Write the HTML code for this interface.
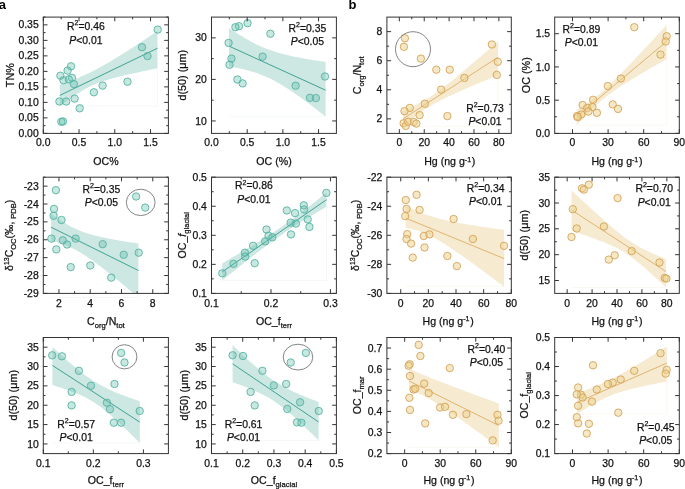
<!DOCTYPE html>
<html><head><meta charset="utf-8"><style>
html,body{margin:0;padding:0;background:#fff;width:685px;height:489px;overflow:hidden}
svg{display:block;will-change:transform;filter:blur(0.25px)}
.t{font-family:"Liberation Sans", sans-serif;font-size:10.4px;fill:#111;stroke:#111;stroke-width:0.25px}
.xt{font-size:10.6px}.sup{font-size:7px}.sub{font-size:7.6px}
.lab{font-family:"Liberation Sans", sans-serif;font-size:13px;font-weight:bold;fill:#000}
</style></head><body>
<svg width="685" height="489" viewBox="0 0 685 489">
<text x="-1.3" y="9" class="lab">a</text>
<text x="348.6" y="9" class="lab">b</text>
<path d="M59.8 106.00H157.5M157.5 68.30V106.00" fill="none" stroke="#f1f7f6" stroke-width="0.8"/>
<clipPath id="clip1"><rect x="43.3" y="17.1" width="125.10000000000001" height="116.30000000000001"/></clipPath>
<polygon points="59.80,84.90 62.24,84.04 64.69,83.16 67.13,82.26 69.57,81.34 72.01,80.40 74.45,79.42 76.90,78.42 79.34,77.39 81.78,76.33 84.22,75.24 86.67,74.11 89.11,72.94 91.55,71.74 94.00,70.51 96.44,69.24 98.88,67.94 101.32,66.61 103.77,65.25 106.21,63.86 108.65,62.45 111.09,61.01 113.53,59.55 115.98,58.06 118.42,56.56 120.86,55.04 123.31,53.51 125.75,51.96 128.19,50.40 130.63,48.83 133.07,47.24 135.52,45.65 137.96,44.05 140.40,42.44 142.84,40.82 145.29,39.20 147.73,37.57 150.17,35.93 152.62,34.29 155.06,32.65 157.50,31.00 157.50,68.30 155.06,68.80 152.62,69.31 150.17,69.81 147.73,70.32 145.29,70.83 142.84,71.35 140.40,71.87 137.96,72.39 135.52,72.92 133.07,73.45 130.63,73.99 128.19,74.54 125.75,75.10 123.31,75.66 120.86,76.24 118.42,76.83 115.98,77.44 113.53,78.08 111.09,78.73 108.65,79.41 106.21,80.13 103.77,80.90 101.32,81.71 98.88,82.59 96.44,83.53 94.00,84.56 91.55,85.67 89.11,86.87 86.67,88.16 84.22,89.53 81.78,90.97 79.34,92.48 76.90,94.05 74.45,95.67 72.01,97.32 69.57,99.01 67.13,100.73 64.69,102.47 62.24,104.23 59.80,106.00" fill="#cde7e3" clip-path="url(#clip1)"/>
<line x1="59.8" y1="95.4" x2="157.5" y2="48.2" stroke="#3fa393" stroke-width="1"/>
<circle cx="157.7" cy="29.6" r="3.7" fill="rgba(96,190,172,0.36)" stroke="#58b2a4" stroke-width="0.9"/>
<circle cx="142" cy="47.2" r="3.7" fill="rgba(96,190,172,0.36)" stroke="#58b2a4" stroke-width="0.9"/>
<circle cx="147.5" cy="56.1" r="3.7" fill="rgba(96,190,172,0.36)" stroke="#58b2a4" stroke-width="0.9"/>
<circle cx="127.5" cy="81.7" r="3.7" fill="rgba(96,190,172,0.36)" stroke="#58b2a4" stroke-width="0.9"/>
<circle cx="102.6" cy="85.6" r="3.7" fill="rgba(96,190,172,0.36)" stroke="#58b2a4" stroke-width="0.9"/>
<circle cx="93.9" cy="92.3" r="3.7" fill="rgba(96,190,172,0.36)" stroke="#58b2a4" stroke-width="0.9"/>
<circle cx="79.7" cy="108.3" r="3.7" fill="rgba(96,190,172,0.36)" stroke="#58b2a4" stroke-width="0.9"/>
<circle cx="74.6" cy="98.6" r="3.7" fill="rgba(96,190,172,0.36)" stroke="#58b2a4" stroke-width="0.9"/>
<circle cx="73.9" cy="84.1" r="3.7" fill="rgba(96,190,172,0.36)" stroke="#58b2a4" stroke-width="0.9"/>
<circle cx="72" cy="77.8" r="3.7" fill="rgba(96,190,172,0.36)" stroke="#58b2a4" stroke-width="0.9"/>
<circle cx="71" cy="66.3" r="3.7" fill="rgba(96,190,172,0.36)" stroke="#58b2a4" stroke-width="0.9"/>
<circle cx="67.6" cy="70.6" r="3.7" fill="rgba(96,190,172,0.36)" stroke="#58b2a4" stroke-width="0.9"/>
<circle cx="60.4" cy="75.7" r="3.7" fill="rgba(96,190,172,0.36)" stroke="#58b2a4" stroke-width="0.9"/>
<circle cx="63.5" cy="80.3" r="3.7" fill="rgba(96,190,172,0.36)" stroke="#58b2a4" stroke-width="0.9"/>
<circle cx="68.8" cy="79.3" r="3.7" fill="rgba(96,190,172,0.36)" stroke="#58b2a4" stroke-width="0.9"/>
<circle cx="59.4" cy="101.5" r="3.7" fill="rgba(96,190,172,0.36)" stroke="#58b2a4" stroke-width="0.9"/>
<circle cx="66.2" cy="101.5" r="3.7" fill="rgba(96,190,172,0.36)" stroke="#58b2a4" stroke-width="0.9"/>
<circle cx="61.3" cy="121.8" r="3.7" fill="rgba(96,190,172,0.36)" stroke="#58b2a4" stroke-width="0.9"/>
<circle cx="63" cy="121.5" r="3.7" fill="rgba(96,190,172,0.36)" stroke="#58b2a4" stroke-width="0.9"/>
<rect x="43.3" y="17.1" width="125.10000000000001" height="116.30000000000001" fill="none" stroke="#333333" stroke-width="1"/>
<path d="M43.30 133.4v-4.2M43.30 17.1v4.2M79.04 133.4v-4.2M79.04 17.1v4.2M114.79 133.4v-4.2M114.79 17.1v4.2M150.53 133.4v-4.2M150.53 17.1v4.2M61.17 133.4v-2.2M61.17 17.1v2.2M96.91 133.4v-2.2M96.91 17.1v2.2M132.66 133.4v-2.2M132.66 17.1v2.2M43.3 133.40h4.2M168.4 133.40h-4.2M43.3 117.89h4.2M168.4 117.89h-4.2M43.3 102.39h4.2M168.4 102.39h-4.2M43.3 86.88h4.2M168.4 86.88h-4.2M43.3 71.37h4.2M168.4 71.37h-4.2M43.3 55.87h4.2M168.4 55.87h-4.2M43.3 40.36h4.2M168.4 40.36h-4.2M43.3 24.85h4.2M168.4 24.85h-4.2M43.3 125.65h2.2M168.4 125.65h-2.2M43.3 110.14h2.2M168.4 110.14h-2.2M43.3 94.63h2.2M168.4 94.63h-2.2M43.3 79.13h2.2M168.4 79.13h-2.2M43.3 63.62h2.2M168.4 63.62h-2.2M43.3 48.11h2.2M168.4 48.11h-2.2M43.3 32.61h2.2M168.4 32.61h-2.2M43.3 17.10h2.2M168.4 17.10h-2.2" stroke="#333333" stroke-width="1" fill="none"/>
<text x="43.30" y="146.30" text-anchor="middle" class="t">0.0</text>
<text x="79.04" y="146.30" text-anchor="middle" class="t">0.5</text>
<text x="114.79" y="146.30" text-anchor="middle" class="t">1.0</text>
<text x="150.53" y="146.30" text-anchor="middle" class="t">1.5</text>
<text x="38.70" y="137.00" text-anchor="end" class="t">0.00</text>
<text x="38.70" y="121.49" text-anchor="end" class="t">0.05</text>
<text x="38.70" y="105.99" text-anchor="end" class="t">0.10</text>
<text x="38.70" y="90.48" text-anchor="end" class="t">0.15</text>
<text x="38.70" y="74.97" text-anchor="end" class="t">0.20</text>
<text x="38.70" y="59.47" text-anchor="end" class="t">0.25</text>
<text x="38.70" y="43.96" text-anchor="end" class="t">0.30</text>
<text x="38.70" y="28.45" text-anchor="end" class="t">0.35</text>
<text x="85.9" y="30.0" text-anchor="middle" class="t">R<tspan class="sup" dy="-4.6">2</tspan><tspan dy="4.6">=0.46</tspan></text>
<text x="85.9" y="43.5" text-anchor="middle" class="t"><tspan font-style="italic">P</tspan>&lt;0.01</text>
<text x="105.9" y="165.3" text-anchor="middle" class="t xt">OC%</text>
<text transform="translate(13.9,75.2) rotate(-90)" text-anchor="middle" class="t" style="font-size:10.8px">TN%</text>
<path d="M229 116.60H325.6" fill="none" stroke="#f1f7f6" stroke-width="0.8"/>
<clipPath id="clip2"><rect x="211.5" y="17.1" width="124.89999999999998" height="116.30000000000001"/></clipPath>
<polygon points="229.00,28.00 231.41,29.64 233.83,31.24 236.25,32.82 238.66,34.35 241.07,35.85 243.49,37.31 245.91,38.73 248.32,40.10 250.74,41.41 253.15,42.68 255.56,43.89 257.98,45.05 260.39,46.16 262.81,47.21 265.23,48.20 267.64,49.14 270.06,50.03 272.47,50.87 274.88,51.66 277.30,52.41 279.72,53.11 282.13,53.78 284.55,54.41 286.96,55.01 289.38,55.59 291.79,56.13 294.21,56.65 296.62,57.14 299.04,57.62 301.45,58.07 303.87,58.51 306.28,58.94 308.70,59.35 311.11,59.74 313.53,60.13 315.94,60.50 318.36,60.86 320.77,61.22 323.19,61.56 325.60,61.90 325.60,116.60 323.19,114.70 320.77,112.81 318.36,110.93 315.94,109.07 313.53,107.21 311.11,105.37 308.70,103.55 306.28,101.75 303.87,99.96 301.45,98.20 299.04,96.46 296.62,94.75 294.21,93.06 291.79,91.41 289.38,89.80 286.96,88.22 284.55,86.69 282.13,85.20 279.72,83.77 277.30,82.39 274.88,81.06 272.47,79.80 270.06,78.60 267.64,77.46 265.23,76.39 262.81,75.38 260.39,74.43 257.98,73.54 255.56,72.71 253.15,71.94 250.74,71.21 248.32,70.54 245.91,69.90 243.49,69.31 241.07,68.75 238.66,68.23 236.25,67.73 233.83,67.27 231.41,66.82 229.00,66.40" fill="#cde7e3" clip-path="url(#clip2)"/>
<line x1="229" y1="46.1" x2="325.6" y2="90.2" stroke="#3fa393" stroke-width="1"/>
<circle cx="247.5" cy="23.2" r="3.7" fill="rgba(96,190,172,0.36)" stroke="#58b2a4" stroke-width="0.9"/>
<circle cx="239" cy="26.2" r="3.7" fill="rgba(96,190,172,0.36)" stroke="#58b2a4" stroke-width="0.9"/>
<circle cx="235.4" cy="27.2" r="3.7" fill="rgba(96,190,172,0.36)" stroke="#58b2a4" stroke-width="0.9"/>
<circle cx="270.4" cy="33.7" r="3.7" fill="rgba(96,190,172,0.36)" stroke="#58b2a4" stroke-width="0.9"/>
<circle cx="228.6" cy="42.9" r="3.7" fill="rgba(96,190,172,0.36)" stroke="#58b2a4" stroke-width="0.9"/>
<circle cx="231.5" cy="58.6" r="3.7" fill="rgba(96,190,172,0.36)" stroke="#58b2a4" stroke-width="0.9"/>
<circle cx="229.5" cy="64.8" r="3.7" fill="rgba(96,190,172,0.36)" stroke="#58b2a4" stroke-width="0.9"/>
<circle cx="262.6" cy="56.6" r="3.7" fill="rgba(96,190,172,0.36)" stroke="#58b2a4" stroke-width="0.9"/>
<circle cx="237.4" cy="79.5" r="3.7" fill="rgba(96,190,172,0.36)" stroke="#58b2a4" stroke-width="0.9"/>
<circle cx="242.6" cy="83.4" r="3.7" fill="rgba(96,190,172,0.36)" stroke="#58b2a4" stroke-width="0.9"/>
<circle cx="295.6" cy="85.7" r="3.7" fill="rgba(96,190,172,0.36)" stroke="#58b2a4" stroke-width="0.9"/>
<circle cx="325" cy="76.5" r="3.7" fill="rgba(96,190,172,0.36)" stroke="#58b2a4" stroke-width="0.9"/>
<circle cx="310" cy="97.8" r="3.7" fill="rgba(96,190,172,0.36)" stroke="#58b2a4" stroke-width="0.9"/>
<circle cx="315.9" cy="98.1" r="3.7" fill="rgba(96,190,172,0.36)" stroke="#58b2a4" stroke-width="0.9"/>
<rect x="211.5" y="17.1" width="124.89999999999998" height="116.30000000000001" fill="none" stroke="#333333" stroke-width="1"/>
<path d="M211.50 133.4v-4.2M211.50 17.1v4.2M247.19 133.4v-4.2M247.19 17.1v4.2M282.87 133.4v-4.2M282.87 17.1v4.2M318.56 133.4v-4.2M318.56 17.1v4.2M229.34 133.4v-2.2M229.34 17.1v2.2M265.03 133.4v-2.2M265.03 17.1v2.2M300.71 133.4v-2.2M300.71 17.1v2.2M211.5 120.94h4.2M336.4 120.94h-4.2M211.5 79.40h4.2M336.4 79.40h-4.2M211.5 37.87h4.2M336.4 37.87h-4.2M211.5 100.17h2.2M336.4 100.17h-2.2M211.5 58.64h2.2M336.4 58.64h-2.2" stroke="#333333" stroke-width="1" fill="none"/>
<text x="211.50" y="146.30" text-anchor="middle" class="t">0.0</text>
<text x="247.19" y="146.30" text-anchor="middle" class="t">0.5</text>
<text x="282.87" y="146.30" text-anchor="middle" class="t">1.0</text>
<text x="318.56" y="146.30" text-anchor="middle" class="t">1.5</text>
<text x="206.90" y="124.54" text-anchor="end" class="t">10</text>
<text x="206.90" y="83.00" text-anchor="end" class="t">20</text>
<text x="206.90" y="41.47" text-anchor="end" class="t">30</text>
<text x="307.4" y="31.7" text-anchor="middle" class="t">R<tspan class="sup" dy="-4.6">2</tspan><tspan dy="4.6">=0.35</tspan></text>
<text x="307.4" y="44.6" text-anchor="middle" class="t"><tspan font-style="italic">P</tspan>&lt;0.05</text>
<text x="274" y="165.3" text-anchor="middle" class="t xt">OC (%)</text>
<text transform="translate(186.4,75.2) rotate(-90)" text-anchor="middle" class="t" style="font-size:10.8px">d(50) (μm)</text>
<path d="M403.1 126.43H498.2M498.2 75.06V126.43" fill="none" stroke="#faf6ee" stroke-width="0.8"/>
<clipPath id="clip3"><rect x="386.9" y="17.1" width="124.40000000000003" height="116.30000000000001"/></clipPath>
<polygon points="403.10,111.30 405.48,110.18 407.86,109.04 410.23,107.88 412.61,106.71 414.99,105.50 417.37,104.27 419.74,103.00 422.12,101.68 424.50,100.32 426.88,98.89 429.25,97.41 431.63,95.87 434.01,94.26 436.38,92.60 438.76,90.88 441.14,89.10 443.52,87.29 445.89,85.44 448.27,83.56 450.65,81.65 453.03,79.72 455.41,77.77 457.78,75.81 460.16,73.83 462.54,71.84 464.92,69.85 467.29,67.84 469.67,65.83 472.05,63.81 474.43,61.79 476.80,59.77 479.18,57.74 481.56,55.70 483.94,53.67 486.31,51.63 488.69,49.59 491.07,47.54 493.44,45.50 495.82,43.45 498.20,41.40 498.20,75.06 495.82,76.04 493.44,77.03 491.07,78.02 488.69,79.01 486.31,80.01 483.94,81.01 481.56,82.01 479.18,83.01 476.80,84.01 474.43,85.02 472.05,86.03 469.67,87.05 467.29,88.08 464.92,89.11 462.54,90.14 460.16,91.19 457.78,92.24 455.41,93.31 453.03,94.39 450.65,95.48 448.27,96.60 445.89,97.73 443.52,98.90 441.14,100.09 438.76,101.32 436.38,102.60 434.01,103.93 431.63,105.32 429.25,106.77 426.88,108.28 424.50,109.87 422.12,111.52 419.74,113.23 417.37,115.00 414.99,116.82 412.61,118.68 410.23,120.58 407.86,122.50 405.48,124.46 403.10,126.43" fill="#f6ead0" clip-path="url(#clip3)"/>
<line x1="403.1" y1="118.8" x2="498.2" y2="57.1" stroke="#e0b56f" stroke-width="1"/>
<circle cx="404.9" cy="38.3" r="3.7" fill="rgba(236,212,140,0.5)" stroke="#d6a25a" stroke-width="0.9"/>
<circle cx="403.9" cy="46.8" r="3.7" fill="rgba(236,212,140,0.5)" stroke="#d6a25a" stroke-width="0.9"/>
<circle cx="420.9" cy="58.6" r="3.7" fill="rgba(236,212,140,0.5)" stroke="#d6a25a" stroke-width="0.9"/>
<circle cx="491.9" cy="44.5" r="3.7" fill="rgba(236,212,140,0.5)" stroke="#d6a25a" stroke-width="0.9"/>
<circle cx="497.8" cy="61.8" r="3.7" fill="rgba(236,212,140,0.5)" stroke="#d6a25a" stroke-width="0.9"/>
<circle cx="496.8" cy="74.9" r="3.7" fill="rgba(236,212,140,0.5)" stroke="#d6a25a" stroke-width="0.9"/>
<circle cx="436.3" cy="69.7" r="3.7" fill="rgba(236,212,140,0.5)" stroke="#d6a25a" stroke-width="0.9"/>
<circle cx="449.7" cy="69.7" r="3.7" fill="rgba(236,212,140,0.5)" stroke="#d6a25a" stroke-width="0.9"/>
<circle cx="464.4" cy="77.9" r="3.7" fill="rgba(236,212,140,0.5)" stroke="#d6a25a" stroke-width="0.9"/>
<circle cx="441.2" cy="89.6" r="3.7" fill="rgba(236,212,140,0.5)" stroke="#d6a25a" stroke-width="0.9"/>
<circle cx="424.8" cy="103.7" r="3.7" fill="rgba(236,212,140,0.5)" stroke="#d6a25a" stroke-width="0.9"/>
<circle cx="409.8" cy="107.9" r="3.7" fill="rgba(236,212,140,0.5)" stroke="#d6a25a" stroke-width="0.9"/>
<circle cx="404.5" cy="111.2" r="3.7" fill="rgba(236,212,140,0.5)" stroke="#d6a25a" stroke-width="0.9"/>
<circle cx="419.6" cy="115.1" r="3.7" fill="rgba(236,212,140,0.5)" stroke="#d6a25a" stroke-width="0.9"/>
<circle cx="447.4" cy="116.1" r="3.7" fill="rgba(236,212,140,0.5)" stroke="#d6a25a" stroke-width="0.9"/>
<circle cx="403.6" cy="123.3" r="3.7" fill="rgba(236,212,140,0.5)" stroke="#d6a25a" stroke-width="0.9"/>
<circle cx="405.8" cy="125.9" r="3.7" fill="rgba(236,212,140,0.5)" stroke="#d6a25a" stroke-width="0.9"/>
<circle cx="408.1" cy="121.7" r="3.7" fill="rgba(236,212,140,0.5)" stroke="#d6a25a" stroke-width="0.9"/>
<circle cx="413.7" cy="122" r="3.7" fill="rgba(236,212,140,0.5)" stroke="#d6a25a" stroke-width="0.9"/>
<circle cx="416.3" cy="123.6" r="3.7" fill="rgba(236,212,140,0.5)" stroke="#d6a25a" stroke-width="0.9"/>
<ellipse cx="413" cy="49.2" rx="17.5" ry="17.5" fill="none" stroke="#666" stroke-width="0.8"/>
<rect x="386.9" y="17.1" width="124.40000000000003" height="116.30000000000001" fill="none" stroke="#333333" stroke-width="1"/>
<path d="M399.34 133.4v-4.2M399.34 17.1v4.2M424.22 133.4v-4.2M424.22 17.1v4.2M449.10 133.4v-4.2M449.10 17.1v4.2M473.98 133.4v-4.2M473.98 17.1v4.2M498.86 133.4v-4.2M498.86 17.1v4.2M411.78 133.4v-2.2M411.78 17.1v2.2M436.66 133.4v-2.2M436.66 17.1v2.2M461.54 133.4v-2.2M461.54 17.1v2.2M486.42 133.4v-2.2M486.42 17.1v2.2M386.9 118.86h4.2M511.3 118.86h-4.2M386.9 89.79h4.2M511.3 89.79h-4.2M386.9 60.71h4.2M511.3 60.71h-4.2M386.9 31.64h4.2M511.3 31.64h-4.2M386.9 104.33h2.2M511.3 104.33h-2.2M386.9 75.25h2.2M511.3 75.25h-2.2M386.9 46.17h2.2M511.3 46.17h-2.2" stroke="#333333" stroke-width="1" fill="none"/>
<text x="399.34" y="146.30" text-anchor="middle" class="t">0</text>
<text x="424.22" y="146.30" text-anchor="middle" class="t">20</text>
<text x="449.10" y="146.30" text-anchor="middle" class="t">40</text>
<text x="473.98" y="146.30" text-anchor="middle" class="t">60</text>
<text x="498.86" y="146.30" text-anchor="middle" class="t">80</text>
<text x="382.30" y="122.46" text-anchor="end" class="t">2</text>
<text x="382.30" y="93.39" text-anchor="end" class="t">4</text>
<text x="382.30" y="64.31" text-anchor="end" class="t">6</text>
<text x="382.30" y="35.24" text-anchor="end" class="t">8</text>
<text x="485" y="111.7" text-anchor="middle" class="t">R<tspan class="sup" dy="-4.6">2</tspan><tspan dy="4.6">=0.73</tspan></text>
<text x="485" y="125" text-anchor="middle" class="t"><tspan font-style="italic">P</tspan>&lt;0.01</text>
<text x="449.8" y="165.3" text-anchor="middle" class="t xt">Hg (ng g<tspan class="sup" dy="-3.6">-1</tspan><tspan dy="3.6" dx="0.8">)</tspan></text>
<text transform="translate(360.6,75.3) rotate(-90)" text-anchor="middle" class="t" style="font-size:10.6px">C<tspan class="sub" dy="3">org</tspan><tspan dy="-3">/N</tspan><tspan class="sub" dy="3">tot</tspan></text>
<path d="M576.7 125.20H666.7M666.7 58.90V125.20" fill="none" stroke="#faf6ee" stroke-width="0.8"/>
<clipPath id="clip4"><rect x="554.7" y="17.1" width="124.59999999999991" height="116.30000000000001"/></clipPath>
<polygon points="576.70,109.70 578.95,108.28 581.20,106.84 583.45,105.38 585.70,103.91 587.95,102.40 590.20,100.86 592.45,99.28 594.70,97.64 596.95,95.94 599.20,94.16 601.45,92.31 603.70,90.37 605.95,88.36 608.20,86.28 610.45,84.13 612.70,81.94 614.95,79.71 617.20,77.44 619.45,75.14 621.70,72.83 623.95,70.50 626.20,68.15 628.45,65.79 630.70,63.43 632.95,61.05 635.20,58.67 637.45,56.28 639.70,53.89 641.95,51.50 644.20,49.10 646.45,46.70 648.70,44.29 650.95,41.89 653.20,39.48 655.45,37.07 657.70,34.66 659.95,32.25 662.20,29.83 664.45,27.42 666.70,25.00 666.70,58.90 664.45,60.20 662.20,61.51 659.95,62.81 657.70,64.12 655.45,65.43 653.20,66.74 650.95,68.06 648.70,69.37 646.45,70.70 644.20,72.02 641.95,73.35 639.70,74.69 637.45,76.03 635.20,77.38 632.95,78.73 630.70,80.10 628.45,81.48 626.20,82.88 623.95,84.29 621.70,85.72 619.45,87.18 617.20,88.66 614.95,90.19 612.70,91.76 610.45,93.39 608.20,95.08 605.95,96.84 603.70,98.67 601.45,100.59 599.20,102.58 596.95,104.65 594.70,106.78 592.45,108.96 590.20,111.19 587.95,113.46 585.70,115.77 583.45,118.10 581.20,120.45 578.95,122.82 576.70,125.20" fill="#f6ead0" clip-path="url(#clip4)"/>
<line x1="576.7" y1="116.7" x2="666.7" y2="41.4" stroke="#e0b56f" stroke-width="1"/>
<circle cx="634.3" cy="27.2" r="3.7" fill="rgba(236,212,140,0.5)" stroke="#d6a25a" stroke-width="0.9"/>
<circle cx="666.7" cy="36.3" r="3.7" fill="rgba(236,212,140,0.5)" stroke="#d6a25a" stroke-width="0.9"/>
<circle cx="665.7" cy="41.5" r="3.7" fill="rgba(236,212,140,0.5)" stroke="#d6a25a" stroke-width="0.9"/>
<circle cx="660.5" cy="54.6" r="3.7" fill="rgba(236,212,140,0.5)" stroke="#d6a25a" stroke-width="0.9"/>
<circle cx="620.9" cy="78.5" r="3.7" fill="rgba(236,212,140,0.5)" stroke="#d6a25a" stroke-width="0.9"/>
<circle cx="607.8" cy="86" r="3.7" fill="rgba(236,212,140,0.5)" stroke="#d6a25a" stroke-width="0.9"/>
<circle cx="593.1" cy="99.8" r="3.7" fill="rgba(236,212,140,0.5)" stroke="#d6a25a" stroke-width="0.9"/>
<circle cx="612.7" cy="104.4" r="3.7" fill="rgba(236,212,140,0.5)" stroke="#d6a25a" stroke-width="0.9"/>
<circle cx="618" cy="108.9" r="3.7" fill="rgba(236,212,140,0.5)" stroke="#d6a25a" stroke-width="0.9"/>
<circle cx="582.6" cy="105" r="3.7" fill="rgba(236,212,140,0.5)" stroke="#d6a25a" stroke-width="0.9"/>
<circle cx="587.2" cy="108" r="3.7" fill="rgba(236,212,140,0.5)" stroke="#d6a25a" stroke-width="0.9"/>
<circle cx="592.4" cy="107" r="3.7" fill="rgba(236,212,140,0.5)" stroke="#d6a25a" stroke-width="0.9"/>
<circle cx="588.4" cy="111.6" r="3.7" fill="rgba(236,212,140,0.5)" stroke="#d6a25a" stroke-width="0.9"/>
<circle cx="596.9" cy="112.8" r="3.7" fill="rgba(236,212,140,0.5)" stroke="#d6a25a" stroke-width="0.9"/>
<circle cx="581.3" cy="114.5" r="3.7" fill="rgba(236,212,140,0.5)" stroke="#d6a25a" stroke-width="0.9"/>
<circle cx="577.1" cy="116.1" r="3.7" fill="rgba(236,212,140,0.5)" stroke="#d6a25a" stroke-width="0.9"/>
<circle cx="577.7" cy="117.1" r="3.7" fill="rgba(236,212,140,0.5)" stroke="#d6a25a" stroke-width="0.9"/>
<rect x="554.7" y="17.1" width="124.59999999999991" height="116.30000000000001" fill="none" stroke="#333333" stroke-width="1"/>
<path d="M572.50 133.4v-4.2M572.50 17.1v4.2M608.10 133.4v-4.2M608.10 17.1v4.2M643.70 133.4v-4.2M643.70 17.1v4.2M679.30 133.4v-4.2M679.30 17.1v4.2M590.30 133.4v-2.2M590.30 17.1v2.2M625.90 133.4v-2.2M625.90 17.1v2.2M661.50 133.4v-2.2M661.50 17.1v2.2M554.7 133.40h4.2M679.3 133.40h-4.2M554.7 100.17h4.2M679.3 100.17h-4.2M554.7 66.94h4.2M679.3 66.94h-4.2M554.7 33.71h4.2M679.3 33.71h-4.2M554.7 116.79h2.2M679.3 116.79h-2.2M554.7 83.56h2.2M679.3 83.56h-2.2M554.7 50.33h2.2M679.3 50.33h-2.2" stroke="#333333" stroke-width="1" fill="none"/>
<text x="572.50" y="146.30" text-anchor="middle" class="t">0</text>
<text x="608.10" y="146.30" text-anchor="middle" class="t">30</text>
<text x="643.70" y="146.30" text-anchor="middle" class="t">60</text>
<text x="679.30" y="146.30" text-anchor="middle" class="t">90</text>
<text x="550.10" y="137.00" text-anchor="end" class="t">0.0</text>
<text x="550.10" y="103.77" text-anchor="end" class="t">0.5</text>
<text x="550.10" y="70.54" text-anchor="end" class="t">1.0</text>
<text x="550.10" y="37.31" text-anchor="end" class="t">1.5</text>
<text x="581.4" y="32.8" text-anchor="middle" class="t">R<tspan class="sup" dy="-4.6">2</tspan><tspan dy="4.6">=0.89</tspan></text>
<text x="581.4" y="45.9" text-anchor="middle" class="t"><tspan font-style="italic">P</tspan>&lt;0.01</text>
<text x="617" y="165.3" text-anchor="middle" class="t xt">Hg (ng g<tspan class="sup" dy="-3.6">-1</tspan><tspan dy="3.6" dx="0.8">)</tspan></text>
<text transform="translate(529.5,75.2) rotate(-90)" text-anchor="middle" class="t" style="font-size:10.8px">OC (%)</text>
<path d="M51.1 297.50H138.4" fill="none" stroke="#f1f7f6" stroke-width="0.8"/>
<clipPath id="clip5"><rect x="43.3" y="177.2" width="125.10000000000001" height="116.19999999999999"/></clipPath>
<polygon points="51.10,213.70 53.28,215.29 55.47,216.85 57.65,218.37 59.83,219.84 62.01,221.27 64.20,222.64 66.38,223.96 68.56,225.21 70.74,226.41 72.93,227.54 75.11,228.60 77.29,229.59 79.47,230.53 81.66,231.40 83.84,232.21 86.02,232.96 88.20,233.67 90.39,234.34 92.57,234.96 94.75,235.54 96.93,236.10 99.12,236.62 101.30,237.12 103.48,237.60 105.66,238.05 107.84,238.49 110.03,238.91 112.21,239.32 114.39,239.71 116.58,240.09 118.76,240.47 120.94,240.83 123.12,241.19 125.31,241.53 127.49,241.88 129.67,242.21 131.85,242.54 134.04,242.86 136.22,243.18 138.40,243.50 138.40,297.50 136.22,295.65 134.04,293.81 131.85,291.96 129.67,290.13 127.49,288.30 125.31,286.48 123.12,284.66 120.94,282.85 118.76,281.05 116.58,279.26 114.39,277.47 112.21,275.70 110.03,273.95 107.84,272.20 105.66,270.47 103.48,268.76 101.30,267.08 99.12,265.41 96.93,263.77 94.75,262.16 92.57,260.58 90.39,259.03 88.20,257.53 86.02,256.08 83.84,254.67 81.66,253.31 79.47,252.02 77.29,250.79 75.11,249.62 72.93,248.51 70.74,247.48 68.56,246.51 66.38,245.60 64.20,244.75 62.01,243.96 59.83,243.22 57.65,242.53 55.47,241.88 53.28,241.27 51.10,240.70" fill="#cde7e3" clip-path="url(#clip5)"/>
<line x1="51.1" y1="227.2" x2="138.4" y2="270.5" stroke="#3fa393" stroke-width="1"/>
<circle cx="55.9" cy="190.2" r="3.7" fill="rgba(96,190,172,0.36)" stroke="#58b2a4" stroke-width="0.9"/>
<circle cx="54" cy="208.9" r="3.7" fill="rgba(96,190,172,0.36)" stroke="#58b2a4" stroke-width="0.9"/>
<circle cx="53.6" cy="215.8" r="3.7" fill="rgba(96,190,172,0.36)" stroke="#58b2a4" stroke-width="0.9"/>
<circle cx="61.5" cy="220" r="3.7" fill="rgba(96,190,172,0.36)" stroke="#58b2a4" stroke-width="0.9"/>
<circle cx="51.4" cy="238.6" r="3.7" fill="rgba(96,190,172,0.36)" stroke="#58b2a4" stroke-width="0.9"/>
<circle cx="56.3" cy="249.4" r="3.7" fill="rgba(96,190,172,0.36)" stroke="#58b2a4" stroke-width="0.9"/>
<circle cx="62.8" cy="240.3" r="3.7" fill="rgba(96,190,172,0.36)" stroke="#58b2a4" stroke-width="0.9"/>
<circle cx="67.1" cy="244.5" r="3.7" fill="rgba(96,190,172,0.36)" stroke="#58b2a4" stroke-width="0.9"/>
<circle cx="75.6" cy="238.6" r="3.7" fill="rgba(96,190,172,0.36)" stroke="#58b2a4" stroke-width="0.9"/>
<circle cx="70.7" cy="267.1" r="3.7" fill="rgba(96,190,172,0.36)" stroke="#58b2a4" stroke-width="0.9"/>
<circle cx="90.3" cy="265.5" r="3.7" fill="rgba(96,190,172,0.36)" stroke="#58b2a4" stroke-width="0.9"/>
<circle cx="102.7" cy="244.2" r="3.7" fill="rgba(96,190,172,0.36)" stroke="#58b2a4" stroke-width="0.9"/>
<circle cx="111.2" cy="277.6" r="3.7" fill="rgba(96,190,172,0.36)" stroke="#58b2a4" stroke-width="0.9"/>
<circle cx="123.7" cy="254.7" r="3.7" fill="rgba(96,190,172,0.36)" stroke="#58b2a4" stroke-width="0.9"/>
<circle cx="138.7" cy="252.7" r="3.7" fill="rgba(96,190,172,0.36)" stroke="#58b2a4" stroke-width="0.9"/>
<circle cx="136.1" cy="196.5" r="3.7" fill="rgba(96,190,172,0.36)" stroke="#58b2a4" stroke-width="0.9"/>
<circle cx="145.2" cy="207.6" r="3.7" fill="rgba(96,190,172,0.36)" stroke="#58b2a4" stroke-width="0.9"/>
<ellipse cx="140.7" cy="202.4" rx="14.4" ry="13.2" fill="none" stroke="#666" stroke-width="0.8"/>
<rect x="43.3" y="177.2" width="125.10000000000001" height="116.19999999999999" fill="none" stroke="#333333" stroke-width="1"/>
<path d="M58.94 293.4v-4.2M58.94 177.2v4.2M90.21 293.4v-4.2M90.21 177.2v4.2M121.49 293.4v-4.2M121.49 177.2v4.2M152.76 293.4v-4.2M152.76 177.2v4.2M74.58 293.4v-2.2M74.58 177.2v2.2M105.85 293.4v-2.2M105.85 177.2v2.2M137.12 293.4v-2.2M137.12 177.2v2.2M43.3 293.40h4.2M168.4 293.40h-4.2M43.3 275.52h4.2M168.4 275.52h-4.2M43.3 257.65h4.2M168.4 257.65h-4.2M43.3 239.77h4.2M168.4 239.77h-4.2M43.3 221.89h4.2M168.4 221.89h-4.2M43.3 204.02h4.2M168.4 204.02h-4.2M43.3 186.14h4.2M168.4 186.14h-4.2M43.3 284.46h2.2M168.4 284.46h-2.2M43.3 266.58h2.2M168.4 266.58h-2.2M43.3 248.71h2.2M168.4 248.71h-2.2M43.3 230.83h2.2M168.4 230.83h-2.2M43.3 212.95h2.2M168.4 212.95h-2.2M43.3 195.08h2.2M168.4 195.08h-2.2M43.3 177.20h2.2M168.4 177.20h-2.2" stroke="#333333" stroke-width="1" fill="none"/>
<text x="58.94" y="306.80" text-anchor="middle" class="t">2</text>
<text x="90.21" y="306.80" text-anchor="middle" class="t">4</text>
<text x="121.49" y="306.80" text-anchor="middle" class="t">6</text>
<text x="152.76" y="306.80" text-anchor="middle" class="t">8</text>
<text x="38.70" y="297.00" text-anchor="end" class="t">-29</text>
<text x="38.70" y="279.12" text-anchor="end" class="t">-28</text>
<text x="38.70" y="261.25" text-anchor="end" class="t">-27</text>
<text x="38.70" y="243.37" text-anchor="end" class="t">-26</text>
<text x="38.70" y="225.49" text-anchor="end" class="t">-25</text>
<text x="38.70" y="207.62" text-anchor="end" class="t">-24</text>
<text x="38.70" y="189.74" text-anchor="end" class="t">-23</text>
<text x="101.4" y="192.9" text-anchor="middle" class="t">R<tspan class="sup" dy="-4.6">2</tspan><tspan dy="4.6">=0.35</tspan></text>
<text x="101.4" y="205.6" text-anchor="middle" class="t"><tspan font-style="italic">P</tspan>&lt;0.05</text>
<text x="105.9" y="325.0" text-anchor="middle" class="t xt">C<tspan class="sub" dy="3">org</tspan><tspan dy="-3">/N</tspan><tspan class="sub" dy="3">tot</tspan></text>
<text transform="translate(13,235.3) rotate(-90)" text-anchor="middle" class="t" style="font-size:10.4px">δ<tspan class="sup" dy="-4">13</tspan><tspan dy="4">C</tspan><tspan class="sub" dy="3">OC</tspan><tspan dy="-3">(‰, </tspan><tspan class="sub" dy="3">PDB</tspan><tspan dy="-3">)</tspan></text>
<path d="M222.2 280.40H326.5M326.5 206.70V280.40" fill="none" stroke="#f1f7f6" stroke-width="0.8"/>
<clipPath id="clip6"><rect x="211.5" y="177.2" width="124.89999999999998" height="116.19999999999999"/></clipPath>
<polygon points="222.20,263.40 224.81,261.89 227.41,260.37 230.02,258.85 232.63,257.32 235.24,255.79 237.84,254.26 240.45,252.72 243.06,251.17 245.67,249.62 248.27,248.06 250.88,246.49 253.49,244.91 256.10,243.32 258.70,241.71 261.31,240.09 263.92,238.46 266.53,236.80 269.13,235.13 271.74,233.43 274.35,231.71 276.96,229.96 279.56,228.19 282.17,226.39 284.78,224.56 287.39,222.70 290.00,220.82 292.60,218.92 295.21,216.99 297.82,215.04 300.43,213.07 303.03,211.08 305.64,209.08 308.25,207.07 310.86,205.04 313.46,203.01 316.07,200.96 318.68,198.90 321.28,196.84 323.89,194.77 326.50,192.70 326.50,206.70 323.89,208.24 321.28,209.78 318.68,211.33 316.07,212.88 313.46,214.44 310.86,216.02 308.25,217.60 305.64,219.20 303.03,220.81 300.43,222.43 297.82,224.07 295.21,225.73 292.60,227.41 290.00,229.12 287.39,230.85 284.78,232.60 282.17,234.38 279.56,236.19 276.96,238.03 274.35,239.89 271.74,241.78 269.13,243.69 266.53,245.63 263.92,247.58 261.31,249.56 258.70,251.55 256.10,253.55 253.49,255.57 250.88,257.60 248.27,259.64 245.67,261.69 243.06,263.75 240.45,265.81 237.84,267.88 235.24,269.96 232.63,272.04 230.02,274.12 227.41,276.21 224.81,278.30 222.20,280.40" fill="#cde7e3" clip-path="url(#clip6)"/>
<line x1="222.2" y1="271.9" x2="326.5" y2="199.7" stroke="#3fa393" stroke-width="1"/>
<circle cx="326.4" cy="192.9" r="3.7" fill="rgba(96,190,172,0.36)" stroke="#58b2a4" stroke-width="0.9"/>
<circle cx="303.8" cy="205.3" r="3.7" fill="rgba(96,190,172,0.36)" stroke="#58b2a4" stroke-width="0.9"/>
<circle cx="304.1" cy="209.5" r="3.7" fill="rgba(96,190,172,0.36)" stroke="#58b2a4" stroke-width="0.9"/>
<circle cx="286.8" cy="210.5" r="3.7" fill="rgba(96,190,172,0.36)" stroke="#58b2a4" stroke-width="0.9"/>
<circle cx="295" cy="213.1" r="3.7" fill="rgba(96,190,172,0.36)" stroke="#58b2a4" stroke-width="0.9"/>
<circle cx="307.7" cy="219.4" r="3.7" fill="rgba(96,190,172,0.36)" stroke="#58b2a4" stroke-width="0.9"/>
<circle cx="309.4" cy="226.9" r="3.7" fill="rgba(96,190,172,0.36)" stroke="#58b2a4" stroke-width="0.9"/>
<circle cx="290.7" cy="222.6" r="3.7" fill="rgba(96,190,172,0.36)" stroke="#58b2a4" stroke-width="0.9"/>
<circle cx="295.9" cy="223.6" r="3.7" fill="rgba(96,190,172,0.36)" stroke="#58b2a4" stroke-width="0.9"/>
<circle cx="291" cy="234.4" r="3.7" fill="rgba(96,190,172,0.36)" stroke="#58b2a4" stroke-width="0.9"/>
<circle cx="266.5" cy="229.5" r="3.7" fill="rgba(96,190,172,0.36)" stroke="#58b2a4" stroke-width="0.9"/>
<circle cx="268.5" cy="235.7" r="3.7" fill="rgba(96,190,172,0.36)" stroke="#58b2a4" stroke-width="0.9"/>
<circle cx="272.4" cy="237.3" r="3.7" fill="rgba(96,190,172,0.36)" stroke="#58b2a4" stroke-width="0.9"/>
<circle cx="265.2" cy="241.3" r="3.7" fill="rgba(96,190,172,0.36)" stroke="#58b2a4" stroke-width="0.9"/>
<circle cx="253.1" cy="245.8" r="3.7" fill="rgba(96,190,172,0.36)" stroke="#58b2a4" stroke-width="0.9"/>
<circle cx="244.9" cy="252.7" r="3.7" fill="rgba(96,190,172,0.36)" stroke="#58b2a4" stroke-width="0.9"/>
<circle cx="245.2" cy="256.6" r="3.7" fill="rgba(96,190,172,0.36)" stroke="#58b2a4" stroke-width="0.9"/>
<circle cx="254.7" cy="263.2" r="3.7" fill="rgba(96,190,172,0.36)" stroke="#58b2a4" stroke-width="0.9"/>
<circle cx="233.5" cy="263.8" r="3.7" fill="rgba(96,190,172,0.36)" stroke="#58b2a4" stroke-width="0.9"/>
<circle cx="222.3" cy="273.3" r="3.7" fill="rgba(96,190,172,0.36)" stroke="#58b2a4" stroke-width="0.9"/>
<rect x="211.5" y="177.2" width="124.89999999999998" height="116.19999999999999" fill="none" stroke="#333333" stroke-width="1"/>
<path d="M211.50 293.4v-4.2M211.50 177.2v4.2M270.98 293.4v-4.2M270.98 177.2v4.2M330.45 293.4v-4.2M330.45 177.2v4.2M241.24 293.4v-2.2M241.24 177.2v2.2M300.71 293.4v-2.2M300.71 177.2v2.2M211.5 293.40h4.2M336.4 293.40h-4.2M211.5 264.35h4.2M336.4 264.35h-4.2M211.5 235.30h4.2M336.4 235.30h-4.2M211.5 206.25h4.2M336.4 206.25h-4.2M211.5 177.20h4.2M336.4 177.20h-4.2M211.5 278.88h2.2M336.4 278.88h-2.2M211.5 249.82h2.2M336.4 249.82h-2.2M211.5 220.77h2.2M336.4 220.77h-2.2M211.5 191.72h2.2M336.4 191.72h-2.2" stroke="#333333" stroke-width="1" fill="none"/>
<text x="211.50" y="306.80" text-anchor="middle" class="t">0.1</text>
<text x="270.98" y="306.80" text-anchor="middle" class="t">0.2</text>
<text x="330.45" y="306.80" text-anchor="middle" class="t">0.3</text>
<text x="206.90" y="297.00" text-anchor="end" class="t">0.1</text>
<text x="206.90" y="267.95" text-anchor="end" class="t">0.2</text>
<text x="206.90" y="238.90" text-anchor="end" class="t">0.3</text>
<text x="206.90" y="209.85" text-anchor="end" class="t">0.4</text>
<text x="206.90" y="180.80" text-anchor="end" class="t">0.5</text>
<text x="253.9" y="189.2" text-anchor="middle" class="t">R<tspan class="sup" dy="-4.6">2</tspan><tspan dy="4.6">=0.86</tspan></text>
<text x="253.9" y="203" text-anchor="middle" class="t"><tspan font-style="italic">P</tspan>&lt;0.01</text>
<text x="274" y="325.0" text-anchor="middle" class="t xt">OC_f<tspan class="sub" dy="3">terr</tspan></text>
<text transform="translate(185.8,235.3) rotate(-90)" text-anchor="middle" class="t" style="font-size:10.6px">OC_<tspan font-style="italic">f</tspan><tspan class="sub" dy="3">glacial</tspan></text>
<path d="M405.7 286.60H504.1" fill="none" stroke="#faf6ee" stroke-width="0.8"/>
<clipPath id="clip7"><rect x="386.9" y="177.2" width="124.40000000000003" height="116.19999999999999"/></clipPath>
<polygon points="405.70,206.00 408.16,207.22 410.62,208.40 413.08,209.53 415.54,210.61 418.00,211.65 420.46,212.63 422.92,213.57 425.38,214.46 427.84,215.30 430.30,216.10 432.76,216.85 435.22,217.57 437.68,218.25 440.14,218.89 442.60,219.51 445.06,220.09 447.52,220.65 449.98,221.18 452.44,221.70 454.90,222.19 457.36,222.67 459.82,223.13 462.28,223.57 464.74,224.00 467.20,224.42 469.66,224.83 472.12,225.23 474.58,225.62 477.04,226.00 479.50,226.37 481.96,226.74 484.42,227.10 486.88,227.45 489.34,227.80 491.80,228.14 494.26,228.48 496.72,228.82 499.18,229.15 501.64,229.48 504.10,229.80 504.10,286.60 501.64,284.77 499.18,282.95 496.72,281.13 494.26,279.30 491.80,277.49 489.34,275.67 486.88,273.86 484.42,272.05 481.96,270.24 479.50,268.44 477.04,266.64 474.58,264.85 472.12,263.07 469.66,261.29 467.20,259.52 464.74,257.75 462.28,256.00 459.82,254.26 457.36,252.53 454.90,250.82 452.44,249.13 449.98,247.46 447.52,245.82 445.06,244.20 442.60,242.63 440.14,241.10 437.68,239.63 435.22,238.22 432.76,236.88 430.30,235.62 427.84,234.45 425.38,233.38 422.92,232.41 420.46,231.53 418.00,230.75 415.54,230.05 413.08,229.43 410.62,228.86 408.16,228.36 405.70,227.90" fill="#f6ead0" clip-path="url(#clip7)"/>
<line x1="405.7" y1="218.1" x2="504.1" y2="258.6" stroke="#e0b56f" stroke-width="1"/>
<circle cx="416.6" cy="194.8" r="3.7" fill="rgba(236,212,140,0.5)" stroke="#d6a25a" stroke-width="0.9"/>
<circle cx="405.8" cy="200" r="3.7" fill="rgba(236,212,140,0.5)" stroke="#d6a25a" stroke-width="0.9"/>
<circle cx="419.6" cy="209.9" r="3.7" fill="rgba(236,212,140,0.5)" stroke="#d6a25a" stroke-width="0.9"/>
<circle cx="406.6" cy="208.9" r="3.7" fill="rgba(236,212,140,0.5)" stroke="#d6a25a" stroke-width="0.9"/>
<circle cx="405.2" cy="216.1" r="3.7" fill="rgba(236,212,140,0.5)" stroke="#d6a25a" stroke-width="0.9"/>
<circle cx="453.6" cy="219" r="3.7" fill="rgba(236,212,140,0.5)" stroke="#d6a25a" stroke-width="0.9"/>
<circle cx="407.2" cy="234.1" r="3.7" fill="rgba(236,212,140,0.5)" stroke="#d6a25a" stroke-width="0.9"/>
<circle cx="406.5" cy="239" r="3.7" fill="rgba(236,212,140,0.5)" stroke="#d6a25a" stroke-width="0.9"/>
<circle cx="411.1" cy="243.6" r="3.7" fill="rgba(236,212,140,0.5)" stroke="#d6a25a" stroke-width="0.9"/>
<circle cx="423.8" cy="236" r="3.7" fill="rgba(236,212,140,0.5)" stroke="#d6a25a" stroke-width="0.9"/>
<circle cx="429.4" cy="234.4" r="3.7" fill="rgba(236,212,140,0.5)" stroke="#d6a25a" stroke-width="0.9"/>
<circle cx="424.5" cy="247.5" r="3.7" fill="rgba(236,212,140,0.5)" stroke="#d6a25a" stroke-width="0.9"/>
<circle cx="412.7" cy="257.6" r="3.7" fill="rgba(236,212,140,0.5)" stroke="#d6a25a" stroke-width="0.9"/>
<circle cx="447.4" cy="256" r="3.7" fill="rgba(236,212,140,0.5)" stroke="#d6a25a" stroke-width="0.9"/>
<circle cx="456.9" cy="266.1" r="3.7" fill="rgba(236,212,140,0.5)" stroke="#d6a25a" stroke-width="0.9"/>
<circle cx="472.9" cy="239" r="3.7" fill="rgba(236,212,140,0.5)" stroke="#d6a25a" stroke-width="0.9"/>
<circle cx="504" cy="245.8" r="3.7" fill="rgba(236,212,140,0.5)" stroke="#d6a25a" stroke-width="0.9"/>
<rect x="386.9" y="177.2" width="124.40000000000003" height="116.19999999999999" fill="none" stroke="#333333" stroke-width="1"/>
<path d="M400.72 293.4v-4.2M400.72 177.2v4.2M428.37 293.4v-4.2M428.37 177.2v4.2M456.01 293.4v-4.2M456.01 177.2v4.2M483.66 293.4v-4.2M483.66 177.2v4.2M511.30 293.4v-4.2M511.30 177.2v4.2M414.54 293.4v-2.2M414.54 177.2v2.2M442.19 293.4v-2.2M442.19 177.2v2.2M469.83 293.4v-2.2M469.83 177.2v2.2M497.48 293.4v-2.2M497.48 177.2v2.2M386.9 293.40h4.2M511.3 293.40h-4.2M386.9 264.35h4.2M511.3 264.35h-4.2M386.9 235.30h4.2M511.3 235.30h-4.2M386.9 206.25h4.2M511.3 206.25h-4.2M386.9 177.20h4.2M511.3 177.20h-4.2M386.9 278.88h2.2M511.3 278.88h-2.2M386.9 249.82h2.2M511.3 249.82h-2.2M386.9 220.77h2.2M511.3 220.77h-2.2M386.9 191.72h2.2M511.3 191.72h-2.2" stroke="#333333" stroke-width="1" fill="none"/>
<text x="400.72" y="306.80" text-anchor="middle" class="t">0</text>
<text x="428.37" y="306.80" text-anchor="middle" class="t">20</text>
<text x="456.01" y="306.80" text-anchor="middle" class="t">40</text>
<text x="483.66" y="306.80" text-anchor="middle" class="t">60</text>
<text x="511.30" y="306.80" text-anchor="middle" class="t">80</text>
<text x="382.30" y="297.00" text-anchor="end" class="t">-30</text>
<text x="382.30" y="267.95" text-anchor="end" class="t">-28</text>
<text x="382.30" y="238.90" text-anchor="end" class="t">-26</text>
<text x="382.30" y="209.85" text-anchor="end" class="t">-24</text>
<text x="382.30" y="180.80" text-anchor="end" class="t">-22</text>
<text x="485.7" y="192" text-anchor="middle" class="t">R<tspan class="sup" dy="-4.6">2</tspan><tspan dy="4.6">=0.34</tspan></text>
<text x="485.7" y="205.3" text-anchor="middle" class="t"><tspan font-style="italic">P</tspan>&lt;0.01</text>
<text x="448.2" y="325.0" text-anchor="middle" class="t xt">Hg (ng g<tspan class="sup" dy="-3.6">-1</tspan><tspan dy="3.6" dx="0.8">)</tspan></text>
<text transform="translate(359,235.3) rotate(-90)" text-anchor="middle" class="t" style="font-size:10.4px">δ<tspan class="sup" dy="-4">13</tspan><tspan dy="4">C</tspan><tspan class="sub" dy="3">OC</tspan><tspan dy="-3">(‰, </tspan><tspan class="sub" dy="3">PDB</tspan><tspan dy="-3">)</tspan></text>
<path d="M571.5 287.50H665.9" fill="none" stroke="#faf6ee" stroke-width="0.8"/>
<clipPath id="clip8"><rect x="554.7" y="177.2" width="124.59999999999991" height="116.19999999999999"/></clipPath>
<polygon points="571.50,190.40 573.86,192.61 576.22,194.81 578.58,197.01 580.94,199.20 583.30,201.39 585.66,203.57 588.02,205.75 590.38,207.92 592.74,210.08 595.10,212.23 597.46,214.37 599.82,216.49 602.18,218.61 604.54,220.70 606.90,222.78 609.26,224.83 611.62,226.86 613.98,228.85 616.34,230.81 618.70,232.72 621.06,234.59 623.42,236.40 625.78,238.15 628.14,239.84 630.50,241.45 632.86,242.99 635.22,244.46 637.58,245.85 639.94,247.18 642.30,248.45 644.66,249.66 647.02,250.83 649.38,251.95 651.74,253.03 654.10,254.08 656.46,255.10 658.82,256.11 661.18,257.09 663.54,258.05 665.90,259.00 665.90,287.50 663.54,285.25 661.18,283.01 658.82,280.78 656.46,278.57 654.10,276.38 651.74,274.21 649.38,272.06 647.02,269.94 644.66,267.86 642.30,265.82 639.94,263.83 637.58,261.89 635.22,260.01 632.86,258.21 630.50,256.48 628.14,254.83 625.78,253.26 623.42,251.79 621.06,250.40 618.70,249.09 616.34,247.85 613.98,246.68 611.62,245.57 609.26,244.51 606.90,243.49 604.54,242.51 602.18,241.57 599.82,240.65 597.46,239.75 595.10,238.88 592.74,238.02 590.38,237.18 588.02,236.35 585.66,235.53 583.30,234.73 580.94,233.93 578.58,233.14 576.22,232.35 573.86,231.57 571.50,230.80" fill="#f6ead0" clip-path="url(#clip8)"/>
<line x1="571.5" y1="210" x2="665.9" y2="271.5" stroke="#e0b56f" stroke-width="1"/>
<circle cx="588.8" cy="184.7" r="3.7" fill="rgba(236,212,140,0.5)" stroke="#d6a25a" stroke-width="0.9"/>
<circle cx="582" cy="188.3" r="3.7" fill="rgba(236,212,140,0.5)" stroke="#d6a25a" stroke-width="0.9"/>
<circle cx="583.9" cy="189.6" r="3.7" fill="rgba(236,212,140,0.5)" stroke="#d6a25a" stroke-width="0.9"/>
<circle cx="617.6" cy="198.1" r="3.7" fill="rgba(236,212,140,0.5)" stroke="#d6a25a" stroke-width="0.9"/>
<circle cx="572.8" cy="209.2" r="3.7" fill="rgba(236,212,140,0.5)" stroke="#d6a25a" stroke-width="0.9"/>
<circle cx="576.7" cy="228.5" r="3.7" fill="rgba(236,212,140,0.5)" stroke="#d6a25a" stroke-width="0.9"/>
<circle cx="571.5" cy="237" r="3.7" fill="rgba(236,212,140,0.5)" stroke="#d6a25a" stroke-width="0.9"/>
<circle cx="603.9" cy="226.5" r="3.7" fill="rgba(236,212,140,0.5)" stroke="#d6a25a" stroke-width="0.9"/>
<circle cx="631.7" cy="251.1" r="3.7" fill="rgba(236,212,140,0.5)" stroke="#d6a25a" stroke-width="0.9"/>
<circle cx="614.7" cy="255.3" r="3.7" fill="rgba(236,212,140,0.5)" stroke="#d6a25a" stroke-width="0.9"/>
<circle cx="608.8" cy="259.6" r="3.7" fill="rgba(236,212,140,0.5)" stroke="#d6a25a" stroke-width="0.9"/>
<circle cx="659.5" cy="262.5" r="3.7" fill="rgba(236,212,140,0.5)" stroke="#d6a25a" stroke-width="0.9"/>
<circle cx="664.7" cy="277.9" r="3.7" fill="rgba(236,212,140,0.5)" stroke="#d6a25a" stroke-width="0.9"/>
<circle cx="666.4" cy="278.6" r="3.7" fill="rgba(236,212,140,0.5)" stroke="#d6a25a" stroke-width="0.9"/>
<rect x="554.7" y="177.2" width="124.59999999999991" height="116.19999999999999" fill="none" stroke="#333333" stroke-width="1"/>
<path d="M567.16 293.4v-4.2M567.16 177.2v4.2M592.08 293.4v-4.2M592.08 177.2v4.2M617.00 293.4v-4.2M617.00 177.2v4.2M641.92 293.4v-4.2M641.92 177.2v4.2M666.84 293.4v-4.2M666.84 177.2v4.2M579.62 293.4v-2.2M579.62 177.2v2.2M604.54 293.4v-2.2M604.54 177.2v2.2M629.46 293.4v-2.2M629.46 177.2v2.2M654.38 293.4v-2.2M654.38 177.2v2.2M554.7 280.49h4.2M679.3 280.49h-4.2M554.7 254.67h4.2M679.3 254.67h-4.2M554.7 228.84h4.2M679.3 228.84h-4.2M554.7 203.02h4.2M679.3 203.02h-4.2M554.7 177.20h4.2M679.3 177.20h-4.2M554.7 267.58h2.2M679.3 267.58h-2.2M554.7 241.76h2.2M679.3 241.76h-2.2M554.7 215.93h2.2M679.3 215.93h-2.2M554.7 190.11h2.2M679.3 190.11h-2.2" stroke="#333333" stroke-width="1" fill="none"/>
<text x="567.16" y="306.80" text-anchor="middle" class="t">0</text>
<text x="592.08" y="306.80" text-anchor="middle" class="t">20</text>
<text x="617.00" y="306.80" text-anchor="middle" class="t">40</text>
<text x="641.92" y="306.80" text-anchor="middle" class="t">60</text>
<text x="666.84" y="306.80" text-anchor="middle" class="t">80</text>
<text x="550.10" y="284.09" text-anchor="end" class="t">15</text>
<text x="550.10" y="258.27" text-anchor="end" class="t">20</text>
<text x="550.10" y="232.44" text-anchor="end" class="t">25</text>
<text x="550.10" y="206.62" text-anchor="end" class="t">30</text>
<text x="550.10" y="180.80" text-anchor="end" class="t">35</text>
<text x="654.3" y="192" text-anchor="middle" class="t">R<tspan class="sup" dy="-4.6">2</tspan><tspan dy="4.6">=0.70</tspan></text>
<text x="654.3" y="205.9" text-anchor="middle" class="t"><tspan font-style="italic">P</tspan>&lt;0.01</text>
<text x="617" y="325.0" text-anchor="middle" class="t xt">Hg (ng g<tspan class="sup" dy="-3.6">-1</tspan><tspan dy="3.6" dx="0.8">)</tspan></text>
<text transform="translate(528,235.3) rotate(-90)" text-anchor="middle" class="t" style="font-size:10.8px">d(50) (μm)</text>
<path d="M52.4 442.90H139.8" fill="none" stroke="#f1f7f6" stroke-width="0.8"/>
<clipPath id="clip9"><rect x="43.3" y="337.5" width="125.10000000000001" height="116.10000000000002"/></clipPath>
<polygon points="52.40,346.90 54.59,348.96 56.77,351.00 58.95,353.02 61.14,355.03 63.33,357.02 65.51,358.99 67.69,360.93 69.88,362.84 72.06,364.73 74.25,366.58 76.44,368.39 78.62,370.17 80.81,371.90 82.99,373.58 85.17,375.21 87.36,376.78 89.55,378.31 91.73,379.77 93.91,381.17 96.10,382.52 98.28,383.81 100.47,385.04 102.66,386.22 104.84,387.35 107.03,388.44 109.21,389.48 111.40,390.48 113.58,391.45 115.77,392.39 117.95,393.29 120.13,394.17 122.32,395.03 124.50,395.87 126.69,396.69 128.88,397.49 131.06,398.28 133.25,399.05 135.43,399.81 137.62,400.56 139.80,401.30 139.80,442.90 137.62,440.72 135.43,438.54 133.25,436.38 131.06,434.22 128.88,432.08 126.69,429.96 124.50,427.86 122.32,425.77 120.13,423.71 117.95,421.67 115.77,419.67 113.58,417.69 111.40,415.76 109.21,413.87 107.03,412.03 104.84,410.25 102.66,408.52 100.47,406.87 98.28,405.28 96.10,403.77 93.91,402.33 91.73,400.98 89.55,399.70 87.36,398.49 85.17,397.35 82.99,396.27 80.81,395.25 78.62,394.29 76.44,393.37 74.25,392.49 72.06,391.64 69.88,390.83 67.69,390.05 65.51,389.29 63.33,388.55 61.14,387.83 58.95,387.13 56.77,386.44 54.59,385.76 52.40,385.10" fill="#cde7e3" clip-path="url(#clip9)"/>
<line x1="52.4" y1="365.4" x2="139.8" y2="422.1" stroke="#3fa393" stroke-width="1"/>
<circle cx="52.2" cy="355.3" r="3.7" fill="rgba(96,190,172,0.36)" stroke="#58b2a4" stroke-width="0.9"/>
<circle cx="61.9" cy="356.3" r="3.7" fill="rgba(96,190,172,0.36)" stroke="#58b2a4" stroke-width="0.9"/>
<circle cx="78.9" cy="370.8" r="3.7" fill="rgba(96,190,172,0.36)" stroke="#58b2a4" stroke-width="0.9"/>
<circle cx="91" cy="385.7" r="3.7" fill="rgba(96,190,172,0.36)" stroke="#58b2a4" stroke-width="0.9"/>
<circle cx="71.6" cy="391.9" r="3.7" fill="rgba(96,190,172,0.36)" stroke="#58b2a4" stroke-width="0.9"/>
<circle cx="71.6" cy="405.4" r="3.7" fill="rgba(96,190,172,0.36)" stroke="#58b2a4" stroke-width="0.9"/>
<circle cx="114.5" cy="384" r="3.7" fill="rgba(96,190,172,0.36)" stroke="#58b2a4" stroke-width="0.9"/>
<circle cx="106.9" cy="402.7" r="3.7" fill="rgba(96,190,172,0.36)" stroke="#58b2a4" stroke-width="0.9"/>
<circle cx="110" cy="409.2" r="3.7" fill="rgba(96,190,172,0.36)" stroke="#58b2a4" stroke-width="0.9"/>
<circle cx="113.8" cy="422.7" r="3.7" fill="rgba(96,190,172,0.36)" stroke="#58b2a4" stroke-width="0.9"/>
<circle cx="121.1" cy="422.7" r="3.7" fill="rgba(96,190,172,0.36)" stroke="#58b2a4" stroke-width="0.9"/>
<circle cx="139.7" cy="411" r="3.7" fill="rgba(96,190,172,0.36)" stroke="#58b2a4" stroke-width="0.9"/>
<circle cx="121.1" cy="352.9" r="3.7" fill="rgba(96,190,172,0.36)" stroke="#58b2a4" stroke-width="0.9"/>
<circle cx="124.5" cy="362.5" r="3.7" fill="rgba(96,190,172,0.36)" stroke="#58b2a4" stroke-width="0.9"/>
<ellipse cx="124.5" cy="356.8" rx="12.4" ry="12.1" fill="none" stroke="#666" stroke-width="0.8"/>
<rect x="43.3" y="337.5" width="125.10000000000001" height="116.10000000000002" fill="none" stroke="#333333" stroke-width="1"/>
<path d="M43.30 453.6v-4.2M43.30 337.5v4.2M93.34 453.6v-4.2M93.34 337.5v4.2M143.38 453.6v-4.2M143.38 337.5v4.2M68.32 453.6v-2.2M68.32 337.5v2.2M118.36 453.6v-2.2M118.36 337.5v2.2M43.3 443.93h4.2M168.4 443.93h-4.2M43.3 424.58h4.2M168.4 424.58h-4.2M43.3 405.23h4.2M168.4 405.23h-4.2M43.3 385.88h4.2M168.4 385.88h-4.2M43.3 366.52h4.2M168.4 366.52h-4.2M43.3 347.18h4.2M168.4 347.18h-4.2M43.3 434.25h2.2M168.4 434.25h-2.2M43.3 414.90h2.2M168.4 414.90h-2.2M43.3 395.55h2.2M168.4 395.55h-2.2M43.3 376.20h2.2M168.4 376.20h-2.2M43.3 356.85h2.2M168.4 356.85h-2.2" stroke="#333333" stroke-width="1" fill="none"/>
<text x="43.30" y="466.50" text-anchor="middle" class="t">0.1</text>
<text x="93.34" y="466.50" text-anchor="middle" class="t">0.2</text>
<text x="143.38" y="466.50" text-anchor="middle" class="t">0.3</text>
<text x="38.70" y="447.53" text-anchor="end" class="t">10</text>
<text x="38.70" y="428.18" text-anchor="end" class="t">15</text>
<text x="38.70" y="408.83" text-anchor="end" class="t">20</text>
<text x="38.70" y="389.48" text-anchor="end" class="t">25</text>
<text x="38.70" y="370.12" text-anchor="end" class="t">30</text>
<text x="38.70" y="350.78" text-anchor="end" class="t">35</text>
<text x="76.2" y="427.6" text-anchor="middle" class="t">R<tspan class="sup" dy="-4.6">2</tspan><tspan dy="4.6">=0.57</tspan></text>
<text x="76.2" y="441" text-anchor="middle" class="t"><tspan font-style="italic">P</tspan>&lt;0.01</text>
<text x="105.9" y="483.9" text-anchor="middle" class="t xt">OC_f<tspan class="sub" dy="3">terr</tspan></text>
<text transform="translate(17.4,395.3) rotate(-90)" text-anchor="middle" class="t" style="font-size:10.8px">d(50) (μm)</text>
<path d="M232.6 440.50H318.6" fill="none" stroke="#f1f7f6" stroke-width="0.8"/>
<clipPath id="clip10"><rect x="211.5" y="337.5" width="124.89999999999998" height="116.10000000000002"/></clipPath>
<polygon points="232.60,345.10 234.75,347.20 236.90,349.28 239.05,351.35 241.20,353.40 243.35,355.43 245.50,357.45 247.65,359.44 249.80,361.40 251.95,363.34 254.10,365.25 256.25,367.12 258.40,368.96 260.55,370.75 262.70,372.50 264.85,374.20 267.00,375.85 269.15,377.44 271.30,378.98 273.45,380.46 275.60,381.89 277.75,383.25 279.90,384.56 282.05,385.81 284.20,387.02 286.35,388.17 288.50,389.28 290.65,390.35 292.80,391.38 294.95,392.38 297.10,393.35 299.25,394.29 301.40,395.21 303.55,396.10 305.70,396.97 307.85,397.83 310.00,398.67 312.15,399.50 314.30,400.31 316.45,401.11 318.60,401.90 318.60,440.50 316.45,438.36 314.30,436.24 312.15,434.12 310.00,432.02 307.85,429.92 305.70,427.85 303.55,425.79 301.40,423.75 299.25,421.74 297.10,419.75 294.95,417.79 292.80,415.87 290.65,413.98 288.50,412.13 286.35,410.33 284.20,408.58 282.05,406.89 279.90,405.26 277.75,403.70 275.60,402.20 273.45,400.77 271.30,399.40 269.15,398.10 267.00,396.87 264.85,395.69 262.70,394.56 260.55,393.49 258.40,392.45 256.25,391.46 254.10,390.50 251.95,389.57 249.80,388.67 247.65,387.79 245.50,386.93 243.35,386.09 241.20,385.27 239.05,384.46 236.90,383.66 234.75,382.88 232.60,382.10" fill="#cde7e3" clip-path="url(#clip10)"/>
<line x1="232.6" y1="363.8" x2="318.6" y2="422" stroke="#3fa393" stroke-width="1"/>
<circle cx="232.6" cy="355.3" r="3.7" fill="rgba(96,190,172,0.36)" stroke="#58b2a4" stroke-width="0.9"/>
<circle cx="243" cy="356" r="3.7" fill="rgba(96,190,172,0.36)" stroke="#58b2a4" stroke-width="0.9"/>
<circle cx="262.4" cy="370.8" r="3.7" fill="rgba(96,190,172,0.36)" stroke="#58b2a4" stroke-width="0.9"/>
<circle cx="273.8" cy="385.4" r="3.7" fill="rgba(96,190,172,0.36)" stroke="#58b2a4" stroke-width="0.9"/>
<circle cx="286.2" cy="384" r="3.7" fill="rgba(96,190,172,0.36)" stroke="#58b2a4" stroke-width="0.9"/>
<circle cx="250.6" cy="391.9" r="3.7" fill="rgba(96,190,172,0.36)" stroke="#58b2a4" stroke-width="0.9"/>
<circle cx="254.7" cy="405.4" r="3.7" fill="rgba(96,190,172,0.36)" stroke="#58b2a4" stroke-width="0.9"/>
<circle cx="287.3" cy="408.9" r="3.7" fill="rgba(96,190,172,0.36)" stroke="#58b2a4" stroke-width="0.9"/>
<circle cx="300.1" cy="402.3" r="3.7" fill="rgba(96,190,172,0.36)" stroke="#58b2a4" stroke-width="0.9"/>
<circle cx="297" cy="422.4" r="3.7" fill="rgba(96,190,172,0.36)" stroke="#58b2a4" stroke-width="0.9"/>
<circle cx="301.4" cy="422.7" r="3.7" fill="rgba(96,190,172,0.36)" stroke="#58b2a4" stroke-width="0.9"/>
<circle cx="318.7" cy="411" r="3.7" fill="rgba(96,190,172,0.36)" stroke="#58b2a4" stroke-width="0.9"/>
<circle cx="290.7" cy="362.5" r="3.7" fill="rgba(96,190,172,0.36)" stroke="#58b2a4" stroke-width="0.9"/>
<circle cx="305.9" cy="352.9" r="3.7" fill="rgba(96,190,172,0.36)" stroke="#58b2a4" stroke-width="0.9"/>
<ellipse cx="298" cy="357.1" rx="14.8" ry="12.9" fill="none" stroke="#666" stroke-width="0.8"/>
<rect x="211.5" y="337.5" width="124.89999999999998" height="116.10000000000002" fill="none" stroke="#333333" stroke-width="1"/>
<path d="M211.50 453.6v-4.2M211.50 337.5v4.2M242.72 453.6v-4.2M242.72 337.5v4.2M273.95 453.6v-4.2M273.95 337.5v4.2M305.18 453.6v-4.2M305.18 337.5v4.2M336.40 453.6v-4.2M336.40 337.5v4.2M227.11 453.6v-2.2M227.11 337.5v2.2M258.34 453.6v-2.2M258.34 337.5v2.2M289.56 453.6v-2.2M289.56 337.5v2.2M320.79 453.6v-2.2M320.79 337.5v2.2M211.5 443.93h4.2M336.4 443.93h-4.2M211.5 424.58h4.2M336.4 424.58h-4.2M211.5 405.23h4.2M336.4 405.23h-4.2M211.5 385.88h4.2M336.4 385.88h-4.2M211.5 366.52h4.2M336.4 366.52h-4.2M211.5 347.18h4.2M336.4 347.18h-4.2M211.5 434.25h2.2M336.4 434.25h-2.2M211.5 414.90h2.2M336.4 414.90h-2.2M211.5 395.55h2.2M336.4 395.55h-2.2M211.5 376.20h2.2M336.4 376.20h-2.2M211.5 356.85h2.2M336.4 356.85h-2.2" stroke="#333333" stroke-width="1" fill="none"/>
<text x="211.50" y="466.50" text-anchor="middle" class="t">0.1</text>
<text x="242.72" y="466.50" text-anchor="middle" class="t">0.2</text>
<text x="273.95" y="466.50" text-anchor="middle" class="t">0.3</text>
<text x="305.18" y="466.50" text-anchor="middle" class="t">0.4</text>
<text x="336.40" y="466.50" text-anchor="middle" class="t">0.5</text>
<text x="206.90" y="447.53" text-anchor="end" class="t">10</text>
<text x="206.90" y="428.18" text-anchor="end" class="t">15</text>
<text x="206.90" y="408.83" text-anchor="end" class="t">20</text>
<text x="206.90" y="389.48" text-anchor="end" class="t">25</text>
<text x="206.90" y="370.12" text-anchor="end" class="t">30</text>
<text x="206.90" y="350.78" text-anchor="end" class="t">35</text>
<text x="243.5" y="427.8" text-anchor="middle" class="t">R<tspan class="sup" dy="-4.6">2</tspan><tspan dy="4.6">=0.61</tspan></text>
<text x="243.5" y="441" text-anchor="middle" class="t"><tspan font-style="italic">P</tspan>&lt;0.01</text>
<text x="274" y="483.9" text-anchor="middle" class="t xt">OC_f<tspan class="sub" dy="3">glacial</tspan></text>
<text transform="translate(187.5,395.3) rotate(-90)" text-anchor="middle" class="t" style="font-size:10.8px">d(50) (μm)</text>
<path d="M409.2 447.40H498.8" fill="none" stroke="#faf6ee" stroke-width="0.8"/>
<clipPath id="clip11"><rect x="386.9" y="337.5" width="124.40000000000003" height="116.10000000000002"/></clipPath>
<polygon points="409.20,368.90 411.44,369.86 413.68,370.81 415.92,371.75 418.16,372.69 420.40,373.62 422.64,374.54 424.88,375.46 427.12,376.37 429.36,377.27 431.60,378.17 433.84,379.07 436.08,379.95 438.32,380.84 440.56,381.72 442.80,382.59 445.04,383.46 447.28,384.33 449.52,385.19 451.76,386.05 454.00,386.91 456.24,387.76 458.48,388.61 460.72,389.46 462.96,390.30 465.20,391.14 467.44,391.98 469.68,392.82 471.92,393.65 474.16,394.48 476.40,395.31 478.64,396.14 480.88,396.96 483.12,397.79 485.36,398.61 487.60,399.43 489.84,400.24 492.08,401.06 494.32,401.88 496.56,402.69 498.80,403.50 498.80,447.40 496.56,445.73 494.32,444.06 492.08,442.39 489.84,440.72 487.60,439.06 485.36,437.40 483.12,435.74 480.88,434.09 478.64,432.44 476.40,430.79 474.16,429.15 471.92,427.52 469.68,425.89 467.44,424.26 465.20,422.65 462.96,421.04 460.72,419.44 458.48,417.85 456.24,416.27 454.00,414.71 451.76,413.16 449.52,411.62 447.28,410.11 445.04,408.61 442.80,407.13 440.56,405.69 438.32,404.27 436.08,402.88 433.84,401.52 431.60,400.21 429.36,398.93 427.12,397.70 424.88,396.51 422.64,395.37 420.40,394.28 418.16,393.24 415.92,392.24 413.68,391.29 411.44,390.37 409.20,389.50" fill="#f6ead0" clip-path="url(#clip11)"/>
<line x1="409.2" y1="381.1" x2="498.8" y2="425.5" stroke="#e0b56f" stroke-width="1"/>
<circle cx="418.7" cy="344.9" r="3.7" fill="rgba(236,212,140,0.5)" stroke="#d6a25a" stroke-width="0.9"/>
<circle cx="420.4" cy="356" r="3.7" fill="rgba(236,212,140,0.5)" stroke="#d6a25a" stroke-width="0.9"/>
<circle cx="409.7" cy="364.3" r="3.7" fill="rgba(236,212,140,0.5)" stroke="#d6a25a" stroke-width="0.9"/>
<circle cx="408.6" cy="365.7" r="3.7" fill="rgba(236,212,140,0.5)" stroke="#d6a25a" stroke-width="0.9"/>
<circle cx="449.8" cy="368.1" r="3.7" fill="rgba(236,212,140,0.5)" stroke="#d6a25a" stroke-width="0.9"/>
<circle cx="410" cy="376" r="3.7" fill="rgba(236,212,140,0.5)" stroke="#d6a25a" stroke-width="0.9"/>
<circle cx="424.2" cy="383.6" r="3.7" fill="rgba(236,212,140,0.5)" stroke="#d6a25a" stroke-width="0.9"/>
<circle cx="413.5" cy="389.5" r="3.7" fill="rgba(236,212,140,0.5)" stroke="#d6a25a" stroke-width="0.9"/>
<circle cx="415.2" cy="388.8" r="3.7" fill="rgba(236,212,140,0.5)" stroke="#d6a25a" stroke-width="0.9"/>
<circle cx="428.7" cy="393" r="3.7" fill="rgba(236,212,140,0.5)" stroke="#d6a25a" stroke-width="0.9"/>
<circle cx="409.3" cy="397.8" r="3.7" fill="rgba(236,212,140,0.5)" stroke="#d6a25a" stroke-width="0.9"/>
<circle cx="410" cy="409.9" r="3.7" fill="rgba(236,212,140,0.5)" stroke="#d6a25a" stroke-width="0.9"/>
<circle cx="440.1" cy="407.5" r="3.7" fill="rgba(236,212,140,0.5)" stroke="#d6a25a" stroke-width="0.9"/>
<circle cx="445" cy="406.8" r="3.7" fill="rgba(236,212,140,0.5)" stroke="#d6a25a" stroke-width="0.9"/>
<circle cx="452.9" cy="414.8" r="3.7" fill="rgba(236,212,140,0.5)" stroke="#d6a25a" stroke-width="0.9"/>
<circle cx="466.4" cy="414.1" r="3.7" fill="rgba(236,212,140,0.5)" stroke="#d6a25a" stroke-width="0.9"/>
<circle cx="425.2" cy="423.4" r="3.7" fill="rgba(236,212,140,0.5)" stroke="#d6a25a" stroke-width="0.9"/>
<circle cx="497.5" cy="414.8" r="3.7" fill="rgba(236,212,140,0.5)" stroke="#d6a25a" stroke-width="0.9"/>
<circle cx="498.6" cy="420.7" r="3.7" fill="rgba(236,212,140,0.5)" stroke="#d6a25a" stroke-width="0.9"/>
<circle cx="492.7" cy="440.4" r="3.7" fill="rgba(236,212,140,0.5)" stroke="#d6a25a" stroke-width="0.9"/>
<rect x="386.9" y="337.5" width="124.40000000000003" height="116.10000000000002" fill="none" stroke="#333333" stroke-width="1"/>
<path d="M404.67 453.6v-4.2M404.67 337.5v4.2M440.21 453.6v-4.2M440.21 337.5v4.2M475.76 453.6v-4.2M475.76 337.5v4.2M511.30 453.6v-4.2M511.30 337.5v4.2M422.44 453.6v-2.2M422.44 337.5v2.2M457.99 453.6v-2.2M457.99 337.5v2.2M493.53 453.6v-2.2M493.53 337.5v2.2M386.9 453.60h4.2M511.3 453.60h-4.2M386.9 432.49h4.2M511.3 432.49h-4.2M386.9 411.38h4.2M511.3 411.38h-4.2M386.9 390.27h4.2M511.3 390.27h-4.2M386.9 369.16h4.2M511.3 369.16h-4.2M386.9 348.05h4.2M511.3 348.05h-4.2M386.9 443.05h2.2M511.3 443.05h-2.2M386.9 421.94h2.2M511.3 421.94h-2.2M386.9 400.83h2.2M511.3 400.83h-2.2M386.9 379.72h2.2M511.3 379.72h-2.2M386.9 358.61h2.2M511.3 358.61h-2.2M386.9 337.50h2.2M511.3 337.50h-2.2" stroke="#333333" stroke-width="1" fill="none"/>
<text x="404.67" y="466.50" text-anchor="middle" class="t">0</text>
<text x="440.21" y="466.50" text-anchor="middle" class="t">30</text>
<text x="475.76" y="466.50" text-anchor="middle" class="t">60</text>
<text x="511.30" y="466.50" text-anchor="middle" class="t">90</text>
<text x="382.30" y="457.20" text-anchor="end" class="t">0.2</text>
<text x="382.30" y="436.09" text-anchor="end" class="t">0.3</text>
<text x="382.30" y="414.98" text-anchor="end" class="t">0.4</text>
<text x="382.30" y="393.87" text-anchor="end" class="t">0.5</text>
<text x="382.30" y="372.76" text-anchor="end" class="t">0.6</text>
<text x="382.30" y="351.65" text-anchor="end" class="t">0.7</text>
<text x="486.4" y="352.7" text-anchor="middle" class="t">R<tspan class="sup" dy="-4.6">2</tspan><tspan dy="4.6">=0.40</tspan></text>
<text x="486.4" y="366.1" text-anchor="middle" class="t"><tspan font-style="italic">P</tspan>&lt;0.05</text>
<text x="449" y="483.9" text-anchor="middle" class="t xt">Hg (ng g<tspan class="sup" dy="-3.6">-1</tspan><tspan dy="3.6" dx="0.8">)</tspan></text>
<text transform="translate(361,395.3) rotate(-90)" text-anchor="middle" class="t" style="font-size:10.6px">OC_f<tspan class="sub" dy="3">mar</tspan></text>
<path d="M577.2 413.90H666.8M666.8 381.60V413.90" fill="none" stroke="#faf6ee" stroke-width="0.8"/>
<clipPath id="clip12"><rect x="554.7" y="337.5" width="124.59999999999991" height="116.10000000000002"/></clipPath>
<polygon points="577.20,392.90 579.44,392.18 581.68,391.43 583.92,390.67 586.16,389.88 588.40,389.07 590.64,388.23 592.88,387.37 595.12,386.47 597.36,385.55 599.60,384.60 601.84,383.61 604.08,382.60 606.32,381.55 608.56,380.48 610.80,379.38 613.04,378.25 615.28,377.10 617.52,375.92 619.76,374.72 622.00,373.49 624.24,372.25 626.48,370.99 628.72,369.71 630.96,368.42 633.20,367.12 635.44,365.80 637.68,364.47 639.92,363.13 642.16,361.78 644.40,360.42 646.64,359.06 648.88,357.68 651.12,356.30 653.36,354.92 655.60,353.53 657.84,352.13 660.08,350.73 662.32,349.32 664.56,347.91 666.80,346.50 666.80,381.60 664.56,382.01 662.32,382.43 660.08,382.85 657.84,383.27 655.60,383.70 653.36,384.14 651.12,384.58 648.88,385.04 646.64,385.50 644.40,385.97 642.16,386.45 639.92,386.94 637.68,387.45 635.44,387.97 633.20,388.51 630.96,389.07 628.72,389.65 626.48,390.26 624.24,390.89 622.00,391.56 619.76,392.27 617.52,393.01 615.28,393.79 613.04,394.62 610.80,395.50 608.56,396.42 606.32,397.40 604.08,398.43 601.84,399.51 599.60,400.64 597.36,401.82 595.12,403.03 592.88,404.29 590.64,405.58 588.40,406.90 586.16,408.26 583.92,409.64 581.68,411.04 579.44,412.46 577.20,413.90" fill="#f6ead0" clip-path="url(#clip12)"/>
<line x1="577.2" y1="402.4" x2="666.8" y2="363.1" stroke="#e0b56f" stroke-width="1"/>
<circle cx="660.5" cy="353.2" r="3.7" fill="rgba(236,212,140,0.5)" stroke="#d6a25a" stroke-width="0.9"/>
<circle cx="666.7" cy="369.8" r="3.7" fill="rgba(236,212,140,0.5)" stroke="#d6a25a" stroke-width="0.9"/>
<circle cx="665.7" cy="373.6" r="3.7" fill="rgba(236,212,140,0.5)" stroke="#d6a25a" stroke-width="0.9"/>
<circle cx="634.2" cy="370.8" r="3.7" fill="rgba(236,212,140,0.5)" stroke="#d6a25a" stroke-width="0.9"/>
<circle cx="593" cy="365.3" r="3.7" fill="rgba(236,212,140,0.5)" stroke="#d6a25a" stroke-width="0.9"/>
<circle cx="620.7" cy="379.5" r="3.7" fill="rgba(236,212,140,0.5)" stroke="#d6a25a" stroke-width="0.9"/>
<circle cx="612.7" cy="382.6" r="3.7" fill="rgba(236,212,140,0.5)" stroke="#d6a25a" stroke-width="0.9"/>
<circle cx="607.9" cy="384" r="3.7" fill="rgba(236,212,140,0.5)" stroke="#d6a25a" stroke-width="0.9"/>
<circle cx="596.8" cy="389.5" r="3.7" fill="rgba(236,212,140,0.5)" stroke="#d6a25a" stroke-width="0.9"/>
<circle cx="592" cy="401.6" r="3.7" fill="rgba(236,212,140,0.5)" stroke="#d6a25a" stroke-width="0.9"/>
<circle cx="578.1" cy="387.5" r="3.7" fill="rgba(236,212,140,0.5)" stroke="#d6a25a" stroke-width="0.9"/>
<circle cx="580.9" cy="394.7" r="3.7" fill="rgba(236,212,140,0.5)" stroke="#d6a25a" stroke-width="0.9"/>
<circle cx="582.6" cy="397.5" r="3.7" fill="rgba(236,212,140,0.5)" stroke="#d6a25a" stroke-width="0.9"/>
<circle cx="576.8" cy="394.4" r="3.7" fill="rgba(236,212,140,0.5)" stroke="#d6a25a" stroke-width="0.9"/>
<circle cx="578.1" cy="405.8" r="3.7" fill="rgba(236,212,140,0.5)" stroke="#d6a25a" stroke-width="0.9"/>
<circle cx="576.8" cy="417.2" r="3.7" fill="rgba(236,212,140,0.5)" stroke="#d6a25a" stroke-width="0.9"/>
<circle cx="578.1" cy="423.4" r="3.7" fill="rgba(236,212,140,0.5)" stroke="#d6a25a" stroke-width="0.9"/>
<circle cx="588.9" cy="423.8" r="3.7" fill="rgba(236,212,140,0.5)" stroke="#d6a25a" stroke-width="0.9"/>
<circle cx="586.8" cy="433.5" r="3.7" fill="rgba(236,212,140,0.5)" stroke="#d6a25a" stroke-width="0.9"/>
<circle cx="618.3" cy="412.7" r="3.7" fill="rgba(236,212,140,0.5)" stroke="#d6a25a" stroke-width="0.9"/>
<rect x="554.7" y="337.5" width="124.59999999999991" height="116.10000000000002" fill="none" stroke="#333333" stroke-width="1"/>
<path d="M572.50 453.6v-4.2M572.50 337.5v4.2M608.10 453.6v-4.2M608.10 337.5v4.2M643.70 453.6v-4.2M643.70 337.5v4.2M679.30 453.6v-4.2M679.30 337.5v4.2M590.30 453.6v-2.2M590.30 337.5v2.2M625.90 453.6v-2.2M625.90 337.5v2.2M661.50 453.6v-2.2M661.50 337.5v2.2M554.7 453.60h4.2M679.3 453.60h-4.2M554.7 424.58h4.2M679.3 424.58h-4.2M554.7 395.55h4.2M679.3 395.55h-4.2M554.7 366.52h4.2M679.3 366.52h-4.2M554.7 337.50h4.2M679.3 337.50h-4.2M554.7 439.09h2.2M679.3 439.09h-2.2M554.7 410.06h2.2M679.3 410.06h-2.2M554.7 381.04h2.2M679.3 381.04h-2.2M554.7 352.01h2.2M679.3 352.01h-2.2" stroke="#333333" stroke-width="1" fill="none"/>
<text x="572.50" y="466.50" text-anchor="middle" class="t">0</text>
<text x="608.10" y="466.50" text-anchor="middle" class="t">30</text>
<text x="643.70" y="466.50" text-anchor="middle" class="t">60</text>
<text x="679.30" y="466.50" text-anchor="middle" class="t">90</text>
<text x="550.10" y="457.20" text-anchor="end" class="t">0.1</text>
<text x="550.10" y="428.18" text-anchor="end" class="t">0.2</text>
<text x="550.10" y="399.15" text-anchor="end" class="t">0.3</text>
<text x="550.10" y="370.12" text-anchor="end" class="t">0.4</text>
<text x="550.10" y="341.10" text-anchor="end" class="t">0.5</text>
<text x="655.8" y="430.5" text-anchor="middle" class="t">R<tspan class="sup" dy="-4.6">2</tspan><tspan dy="4.6">=0.45</tspan></text>
<text x="655.8" y="443.9" text-anchor="middle" class="t"><tspan font-style="italic">P</tspan>&lt;0.05</text>
<text x="617" y="483.9" text-anchor="middle" class="t xt">Hg (ng g<tspan class="sup" dy="-3.6">-1</tspan><tspan dy="3.6" dx="0.8">)</tspan></text>
<text transform="translate(528.2,395.3) rotate(-90)" text-anchor="middle" class="t" style="font-size:10.6px">OC_f<tspan class="sub" dy="3">glacial</tspan></text>
</svg></body></html>
